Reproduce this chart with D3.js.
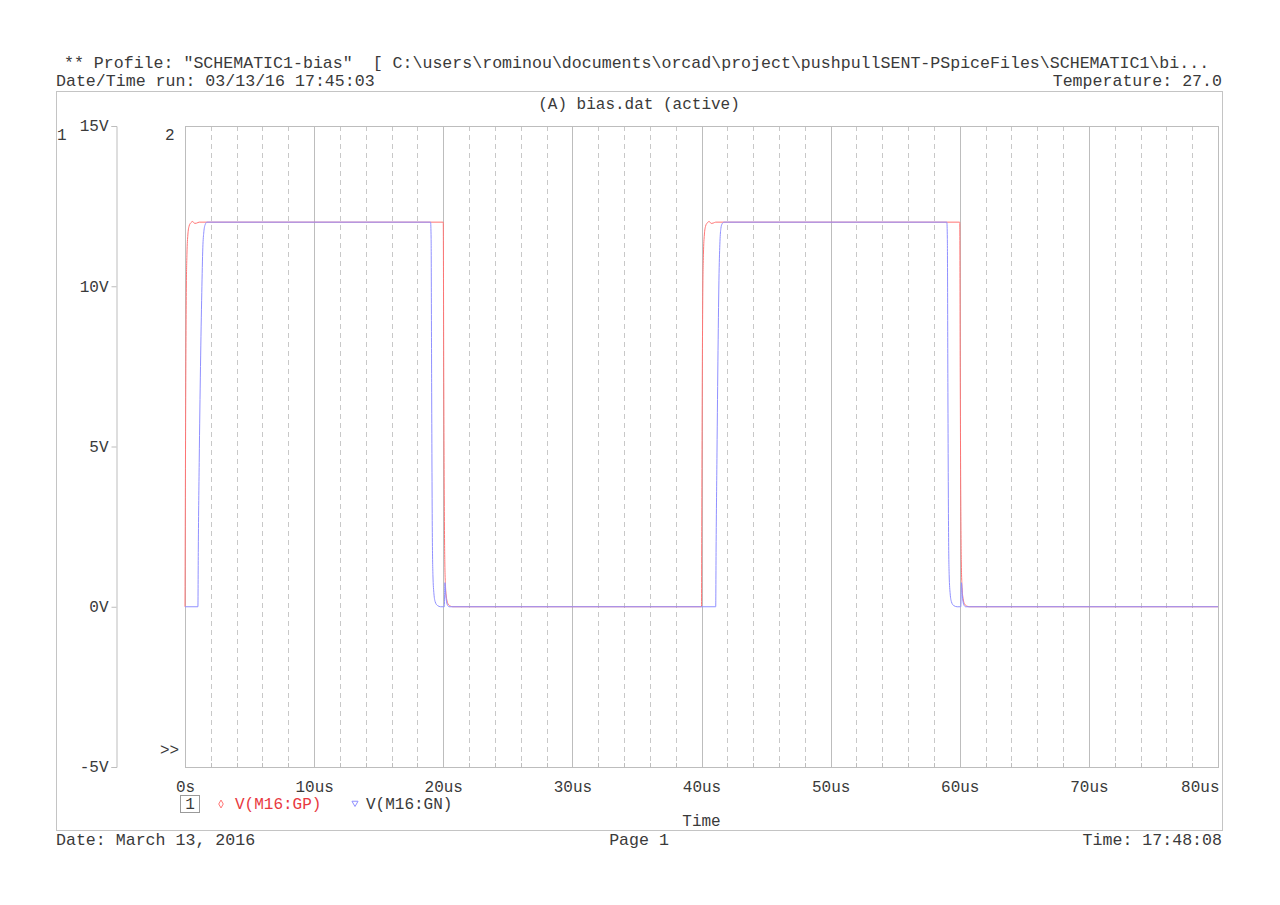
<!DOCTYPE html>
<html>
<head>
<meta charset="utf-8">
<script src="https://cdn.jsdelivr.net/npm/d3@7"></script>
<style>
  html, body { margin: 0; padding: 0; background: #ffffff; }
  svg { display: block; }
  text { font-family: "Liberation Mono", "DejaVu Sans Mono", monospace; fill: #3a3a3a; }
</style>
</head>
<body>
<svg id="chart" width="1280" height="905"></svg>
<script>
// ---------------- data ----------------
const headerLine1 = ' ** Profile: "SCHEMATIC1-bias"  [ C:\\users\\rominou\\documents\\orcad\\project\\pushpullSENT-PSpiceFiles\\SCHEMATIC1\\bi...';
const headerLine2Left = "Date/Time run: 03/13/16 17:45:03";
const headerLine2Right = "Temperature: 27.0";
const plotTitle = "(A) bias.dat (active)";
const footerLeft = "Date: March 13, 2016";
const footerCenter = "Page 1";
const footerRight = "Time: 17:48:08";
const xAxisTitle = "Time";

const xTickValues = [0, 10, 20, 30, 40, 50, 60, 70, 80];
const xTickLabels = ["0s", "10us", "20us", "30us", "40us", "50us", "60us", "70us", "80us"];
const xMinorValues = [2, 4, 6, 8, 12, 14, 16, 18, 22, 24, 26, 28, 32, 34, 36, 38, 42, 44, 46, 48, 52, 54, 56, 58, 62, 64, 66, 68, 72, 74, 76, 78];
const yTickValues = [15, 10, 5, 0, -5];
const yTickLabels = ["15V", "10V", "5V", "0V", "-5V"];

const seriesNames = ["V(M16:GP)", "V(M16:GN)"];

// V(M16:GP) — time (us), voltage (V)
const gpTime = [0, 0.02, 0.06, 0.1, 0.15, 0.22, 0.32, 0.45, 0.6, 0.75, 0.9, 1.1,
  19.98, 20.0, 20.04, 20.08, 20.12, 20.18, 20.26, 20.38, 20.55, 20.75,
  40.0, 40.02, 40.06, 40.1, 40.15, 40.22, 40.32, 40.45, 40.6, 40.75, 40.9, 41.1,
  59.98, 60.0, 60.04, 60.08, 60.12, 60.18, 60.26, 60.38, 60.55, 60.75, 80];
const gpVolt = [0, 2.5, 7.0, 9.8, 11.0, 11.6, 11.88, 11.98, 12.02, 11.96, 11.97, 12.0,
  12.0, 12.0, 7.0, 3.3, 1.4, 0.6, 0.25, 0.08, 0.02, 0,
  0, 2.5, 7.0, 9.8, 11.0, 11.6, 11.88, 11.98, 12.02, 11.96, 11.97, 12.0,
  12.0, 12.0, 7.0, 3.3, 1.4, 0.6, 0.25, 0.08, 0.02, 0, 0];

// V(M16:GN) — time (us), voltage (V)
const gnTime = [0, 1.0, 1.03, 1.1, 1.2, 1.3, 1.38, 1.46, 1.56, 1.7,
  19.02, 19.06, 19.1, 19.15, 19.2, 19.28, 19.38, 19.55, 19.8, 20.08, 20.13, 20.2, 20.3, 20.45,
  41.1, 41.13, 41.2, 41.28, 41.36, 41.43, 41.5, 41.6, 41.75,
  59.0, 59.04, 59.08, 59.13, 59.18, 59.26, 59.36, 59.52, 59.8, 60.08, 60.13, 60.2, 60.3, 60.45, 80];
const gnVolt = [0, 0, 1.8, 4.5, 7.5, 9.8, 11.2, 11.7, 11.92, 12.0,
  12.0, 11.5, 7.0, 2.5, 1.0, 0.4, 0.15, 0.04, 0, 0, 0.75, 0.35, 0.08, 0,
  0, 1.8, 4.8, 8.0, 10.4, 11.4, 11.8, 11.95, 12.0,
  12.0, 11.5, 7.0, 2.5, 1.0, 0.4, 0.15, 0.04, 0, 0, 0.75, 0.35, 0.08, 0, 0];

// ---------------- drawing ----------------
const svg = d3.select("#chart");
const FONT = 16;
const HFONT = 16.6;
const frame = { left: 56, right: 1222, top: 91, bottom: 830 };
const plot = { left: 185, right: 1218, top: 126, bottom: 767 };
const axisX = 116;

const x = d3.scaleLinear().domain([0, 80]).range([plot.left, plot.right]);
const y = d3.scaleLinear().domain([-5, 15]).range([plot.bottom, plot.top]);

// header
svg.append("text").attr("x", frame.left - 2).attr("y", 68).attr("font-size", HFONT)
  .attr("xml:space", "preserve").style("white-space", "pre").text(headerLine1);
svg.append("text").attr("x", frame.left).attr("y", 86).attr("font-size", HFONT).text(headerLine2Left);
svg.append("text").attr("x", frame.right).attr("y", 86).attr("font-size", HFONT)
  .attr("text-anchor", "end").text(headerLine2Right);

// outer frame
svg.append("rect").attr("x", frame.left + 0.5).attr("y", frame.top + 0.5)
  .attr("width", frame.right - frame.left).attr("height", frame.bottom - frame.top)
  .attr("fill", "none").attr("stroke", "#c4c4c4").attr("stroke-width", 1);

svg.append("text").attr("x", (frame.left + frame.right) / 2).attr("y", 109)
  .attr("font-size", FONT).attr("text-anchor", "middle").text(plotTitle);

// grid: dashed minor verticals
svg.append("g").selectAll("line").data(xMinorValues).join("line")
  .attr("x1", d => Math.round(x(d)) + 0.5).attr("x2", d => Math.round(x(d)) + 0.5)
  .attr("y1", plot.top).attr("y2", plot.bottom)
  .attr("stroke", "#c8c8c8").attr("stroke-width", 1).attr("stroke-dasharray", "5,4");

// grid: solid major verticals
svg.append("g").selectAll("line").data(xTickValues).join("line")
  .attr("x1", d => Math.round(x(d)) + 0.5).attr("x2", d => Math.round(x(d)) + 0.5)
  .attr("y1", plot.top).attr("y2", plot.bottom)
  .attr("stroke", "#bdbdbd").attr("stroke-width", 1);

// plot rectangle
svg.append("rect").attr("x", plot.left + 0.5).attr("y", plot.top + 0.5)
  .attr("width", plot.right - plot.left).attr("height", plot.bottom - plot.top)
  .attr("fill", "none").attr("stroke", "#bdbdbd").attr("stroke-width", 1);

// bottom axis ticks & labels
const xAxis = d3.axisBottom(x).tickValues(xTickValues).tickSize(0)
  .tickFormat((d, i) => xTickLabels[i]);
const gx = svg.append("g").attr("transform", `translate(0,${plot.bottom + 0.5})`).call(xAxis);
gx.select(".domain").remove();
gx.selectAll("text").attr("font-size", FONT).attr("font-family", "Liberation Mono, monospace")
  .attr("fill", "#3a3a3a").attr("dy", 0).attr("y", 24);
// keep the last label inside the plot width
gx.selectAll(".tick").filter(d => d === xTickValues[xTickValues.length - 1])
  .select("text").attr("text-anchor", "end").attr("x", 1);
// minor tick marks at bottom (upward)
svg.append("g").selectAll("line").data(xMinorValues).join("line")
  .attr("x1", d => Math.round(x(d)) + 0.5).attr("x2", d => Math.round(x(d)) + 0.5)
  .attr("y1", plot.bottom - 4).attr("y2", plot.bottom)
  .attr("stroke", "#bdbdbd");

// left axis
const yAxis = d3.axisLeft(y).tickValues(yTickValues).tickSize(5)
  .tickFormat((d, i) => yTickLabels[i]);
const gy = svg.append("g").attr("transform", `translate(${axisX + 0.5},0)`).call(yAxis);
gy.select(".domain").attr("stroke", "#bdbdbd");
gy.selectAll(".tick line").attr("stroke", "#bdbdbd");
gy.selectAll("text").attr("font-size", FONT).attr("font-family", "Liberation Mono, monospace")
  .attr("fill", "#3a3a3a").attr("x", -8).attr("dy", "0.3em");

// axis markers
svg.append("text").attr("x", 57).attr("y", 140).attr("font-size", FONT).text("1");
svg.append("text").attr("x", 165).attr("y", 140).attr("font-size", FONT).text("2");
svg.append("text").attr("x", 160).attr("y", 755).attr("font-size", FONT).text(">>");

// series
const line = d3.line().x(d => x(d[0])).y(d => y(d[1])).curve(d3.curveMonotoneX);
const gpData = gpTime.map((t, i) => [t, gpVolt[i]]);
const gnData = gnTime.map((t, i) => [t, gnVolt[i]]);
svg.append("path").datum(gpData).attr("d", line)
  .attr("fill", "none").attr("stroke", "#ff7474").attr("stroke-width", 1);
svg.append("path").datum(gnData).attr("d", line)
  .attr("fill", "none").attr("stroke", "#9090ff").attr("stroke-width", 1);

// legend
svg.append("rect").attr("x", 180.5).attr("y", 795.5).attr("width", 19).attr("height", 17)
  .attr("fill", "none").attr("stroke", "#9a9a9a");
svg.append("text").attr("x", 190).attr("y", 809).attr("font-size", FONT)
  .attr("text-anchor", "middle").text("1");
svg.append("path").attr("d", d3.symbol().type(d3.symbolDiamond).size(18)())
  .attr("transform", "translate(221,804)").attr("fill", "none").attr("stroke", "#ff7474");
svg.append("text").attr("x", 235).attr("y", 809).attr("font-size", FONT)
  .style("fill", "#e8393f").text(seriesNames[0]);
svg.append("path").attr("d", d3.symbol().type(d3.symbolTriangle).size(16)())
  .attr("transform", "translate(355,803) rotate(180)").attr("fill", "none").attr("stroke", "#9090ff");
svg.append("text").attr("x", 366).attr("y", 809).attr("font-size", FONT).text(seriesNames[1]);

// x axis title
svg.append("text").attr("x", (plot.left + plot.right) / 2).attr("y", 826)
  .attr("font-size", FONT).attr("text-anchor", "middle").text(xAxisTitle);

// footer
svg.append("text").attr("x", frame.left).attr("y", 845).attr("font-size", HFONT).text(footerLeft);
svg.append("text").attr("x", 639).attr("y", 845).attr("font-size", HFONT)
  .attr("text-anchor", "middle").text(footerCenter);
svg.append("text").attr("x", frame.right).attr("y", 845).attr("font-size", HFONT)
  .attr("text-anchor", "end").text(footerRight);
</script>
</body>
</html>
